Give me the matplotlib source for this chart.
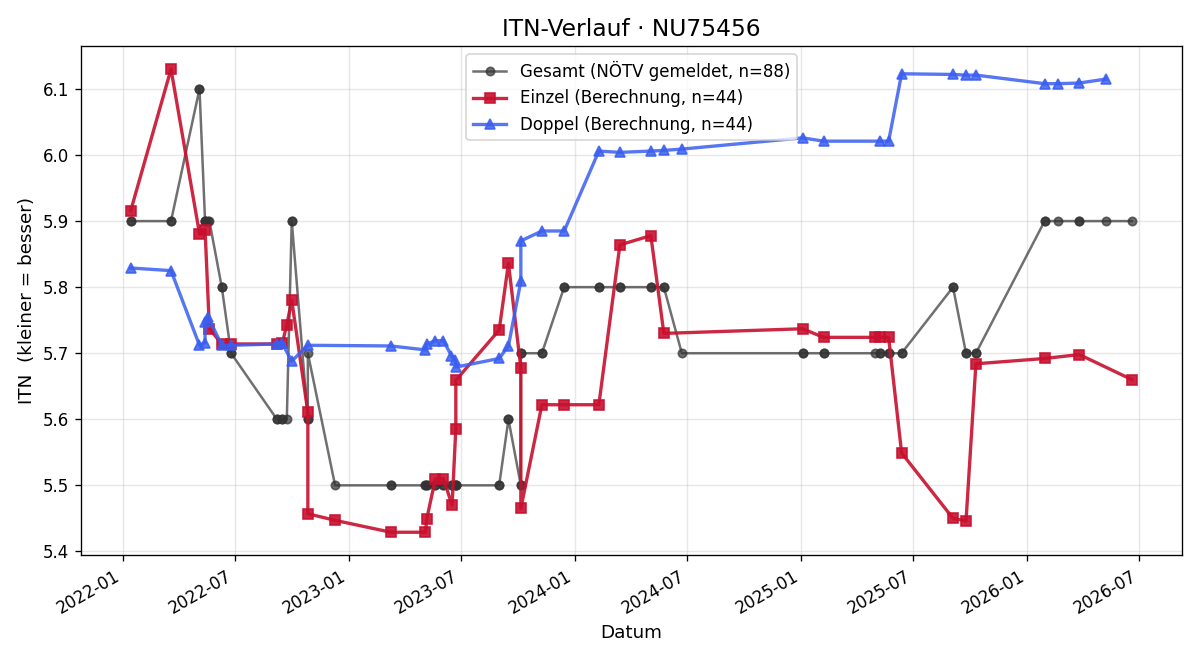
import matplotlib
matplotlib.use("Agg")
import matplotlib.pyplot as plt
import matplotlib.dates as mdates
import pandas as pd

# Einzel (Berechnung)
einzel_datum = ["2022-01-14", "2022-03-20", "2022-05-05", "2022-05-14", "2022-05-21",
                "2022-06-10", "2022-06-25", "2022-09-07", "2022-09-16", "2022-09-23",
                "2022-10-01", "2022-10-27", "2022-10-27", "2022-12-10", "2023-03-10",
                "2023-05-05", "2023-05-07", "2023-05-21", "2023-06-03", "2023-06-17",
                "2023-06-23", "2023-06-23", "2023-09-01", "2023-09-16", "2023-10-06",
                "2023-10-06", "2023-11-09", "2023-12-15", "2024-02-09", "2024-03-14",
                "2024-05-03", "2024-05-24", "2025-01-03", "2025-02-06", "2025-04-30",
                "2025-05-08", "2025-05-22", "2025-06-12", "2025-09-03", "2025-09-24",
                "2025-10-10", "2026-01-29", "2026-03-26", "2026-06-19"]
einzel_itn = [5.916, 6.130, 5.881, 5.887, 5.737,
              5.714, 5.714, 5.714, 5.716, 5.743,
              5.780, 5.611, 5.457, 5.447, 5.429,
              5.429, 5.449, 5.510, 5.510, 5.470,
              5.586, 5.659, 5.735, 5.836, 5.678,
              5.465, 5.622, 5.622, 5.622, 5.864,
              5.878, 5.730, 5.737, 5.724, 5.724,
              5.724, 5.724, 5.549, 5.450, 5.446,
              5.684, 5.692, 5.698, 5.660]

# Doppel (Berechnung)
doppel_datum = ["2022-01-14", "2022-03-20", "2022-05-05", "2022-05-14", "2022-05-14",
                "2022-05-19", "2022-06-10", "2022-06-25", "2022-09-07", "2022-09-15",
                "2022-10-01", "2022-10-27", "2023-03-10", "2023-05-05", "2023-05-07",
                "2023-05-21", "2023-06-03", "2023-06-16", "2023-06-22", "2023-06-23",
                "2023-09-01", "2023-09-16", "2023-10-06", "2023-10-06", "2023-11-09",
                "2023-12-15", "2024-02-09", "2024-03-14", "2024-05-03", "2024-05-24",
                "2024-06-22", "2025-01-03", "2025-02-06", "2025-05-08", "2025-05-22",
                "2025-06-12", "2025-09-03", "2025-09-24", "2025-10-10", "2026-01-29",
                "2026-02-19", "2026-03-26", "2026-05-08"]
doppel_itn = [5.829, 5.825, 5.712, 5.716, 5.748,
              5.755, 5.712, 5.712, 5.714, 5.716,
              5.688, 5.712, 5.711, 5.705, 5.714,
              5.719, 5.719, 5.696, 5.690, 5.679,
              5.692, 5.711, 5.809, 5.870, 5.885,
              5.885, 6.006, 6.004, 6.006, 6.007,
              6.009, 6.026, 6.021, 6.021, 6.021,
              6.123, 6.122, 6.121, 6.121, 6.108,
              6.108, 6.109, 6.115]

# Gesamt (NÖTV gemeldet)
gesamt_datum = ["2022-01-14", "2022-01-14", "2022-03-20", "2022-03-20", "2022-05-05",
                "2022-05-05", "2022-05-14", "2022-05-14", "2022-05-14", "2022-05-19",
                "2022-05-21", "2022-06-10", "2022-06-10", "2022-06-25", "2022-06-25",
                "2022-09-07", "2022-09-07", "2022-09-15", "2022-09-16", "2022-09-23",
                "2022-10-01", "2022-10-01", "2022-10-27", "2022-10-27", "2022-10-27",
                "2022-12-10", "2023-03-10", "2023-03-10", "2023-05-05", "2023-05-05",
                "2023-05-07", "2023-05-07", "2023-05-21", "2023-05-21", "2023-06-03",
                "2023-06-03", "2023-06-16", "2023-06-17", "2023-06-22", "2023-06-23",
                "2023-06-23", "2023-06-23", "2023-09-01", "2023-09-01", "2023-09-16",
                "2023-09-16", "2023-10-06", "2023-10-06", "2023-10-06", "2023-10-06",
                "2023-11-09", "2023-11-09", "2023-12-15", "2023-12-15", "2024-02-09",
                "2024-02-09", "2024-03-14", "2024-03-14", "2024-05-03", "2024-05-03",
                "2024-05-24", "2024-05-24", "2024-06-22", "2025-01-03", "2025-01-03",
                "2025-02-06", "2025-02-06", "2025-04-30", "2025-05-08", "2025-05-08",
                "2025-05-22", "2025-05-22", "2025-06-12", "2025-06-12", "2025-09-03",
                "2025-09-03", "2025-09-24", "2025-09-24", "2025-10-10", "2025-10-10",
                "2026-01-29", "2026-01-29", "2026-02-19", "2026-03-26", "2026-03-26",
                "2026-05-08", "2026-06-19"]
gesamt_itn = [5.9, 5.9, 5.9, 5.9, 6.1,
              6.1, 5.9, 5.9, 5.9, 5.9,
              5.9, 5.8, 5.8, 5.7, 5.7,
              5.6, 5.6, 5.6, 5.6, 5.6,
              5.9, 5.9, 5.6, 5.6, 5.7,
              5.5, 5.5, 5.5, 5.5, 5.5,
              5.5, 5.5, 5.5, 5.5, 5.5,
              5.5, 5.5, 5.5, 5.5, 5.5,
              5.5, 5.5, 5.5, 5.5, 5.6,
              5.6, 5.5, 5.5, 5.7, 5.7,
              5.7, 5.7, 5.8, 5.8, 5.8,
              5.8, 5.8, 5.8, 5.8, 5.8,
              5.8, 5.8, 5.7, 5.7, 5.7,
              5.7, 5.7, 5.7, 5.7, 5.7,
              5.7, 5.7, 5.7, 5.7, 5.8,
              5.8, 5.7, 5.7, 5.7, 5.7,
              5.9, 5.9, 5.9, 5.9, 5.9,
              5.9, 5.9]

xg = pd.to_datetime(gesamt_datum)
xe = pd.to_datetime(einzel_datum)
xd = pd.to_datetime(doppel_datum)

fig, ax = plt.subplots(figsize=(10, 5.5), dpi=120)

ax.plot(xg, gesamt_itn, marker="o", color="#333333", alpha=0.7, linewidth=1.5,
        markersize=5, label="Gesamt (NÖTV gemeldet, n=88)")
ax.plot(xe, einzel_itn, marker="s", color="#c8102e", alpha=0.9, linewidth=2,
        markersize=6, label="Einzel (Berechnung, n=44)")
ax.plot(xd, doppel_itn, marker="^", color="#3a5ef0", alpha=0.85, linewidth=2,
        markersize=6, label="Doppel (Berechnung, n=44)")

#Legendas
ax.set_title("ITN-Verlauf · NU75456", fontsize=14)
ax.set_xlabel("Datum", fontsize=11)
ax.set_ylabel("ITN  (kleiner = besser)", fontsize=11)

ax.xaxis.set_major_locator(mdates.MonthLocator(bymonth=[1, 7]))
ax.xaxis.set_major_formatter(mdates.DateFormatter("%Y-%m"))
ax.grid(True, alpha=0.3)
ax.legend(loc="upper center")
fig.autofmt_xdate()

fig.tight_layout()
fig.savefig("out.png")
